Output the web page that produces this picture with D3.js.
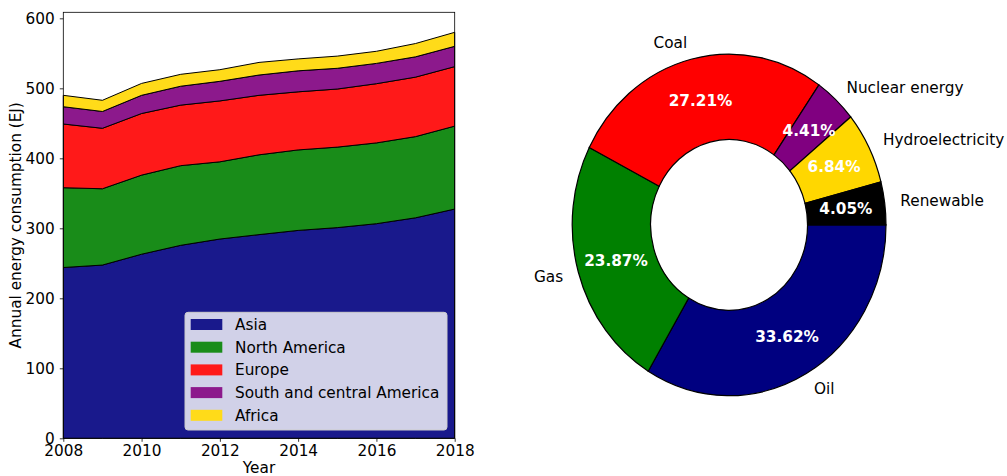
<!DOCTYPE html>
<html>
<head>
<meta charset="utf-8">
<script src="https://cdn.jsdelivr.net/npm/d3@7"></script>
<style>
  body { margin: 0; background: #fff; }
  svg { font-family: "DejaVu Sans", sans-serif; }
</style>
</head>
<body>
<div id="content"></div>
<script>
// stacked area data (EJ)
var years = [2008, 2009, 2010, 2011, 2012, 2013, 2014, 2015, 2016, 2017, 2018];
var asia = [244, 247.5, 263, 275.7, 284.7, 291, 297, 301, 306.6, 315, 327.5];
var northAmerica = [114, 109, 113, 113.8, 110.3, 114, 115, 115, 115.4, 116, 118.5];
var europe = [91, 86.4, 88, 86.5, 87, 85, 83, 83, 84.6, 85, 85];
var southCentral = [24.7, 24, 26, 27, 28, 29, 30, 29.6, 29, 29, 29];
var africa = [16.3, 16, 17, 17, 16.6, 18, 17, 17.4, 17.3, 19, 20];
var regions = ['Asia', 'North America', 'Europe', 'South and central America', 'Africa'];
var regionColors = ['#19198c', '#198c19', '#ff1919', '#8c198c', '#ffdb19'];
var yTicks = [0, 100, 200, 300, 400, 500, 600];
var xTicks = [2008, 2010, 2012, 2014, 2016, 2018];

// donut data (%)
var sources = ['Oil', 'Gas', 'Coal', 'Nuclear energy', 'Hydroelectricity', 'Renewable'];
var shares = [33.62, 23.87, 27.21, 4.41, 6.84, 4.05];
var sourceColors = ['#000080', '#008000', '#ff0000', '#800080', '#ffd700', '#000000'];

var width = 1007, height = 476;
var fontSize = '15.3px';
var svg = d3.select('#content').append('svg')
  .attr('width', width)
  .attr('height', height);

// ---- left: stacked area ----
var plotLeft = 63.3, plotRight = 454.7, plotTop = 12.3, plotBottom = 438.3;

var table = years.map(function(yr, i) {
  return {
    year: yr,
    'Asia': asia[i],
    'North America': northAmerica[i],
    'Europe': europe[i],
    'South and central America': southCentral[i],
    'Africa': africa[i]
  };
});

var x = d3.scaleLinear().domain([2008, 2018]).range([plotLeft, plotRight]);
var y = d3.scaleLinear().domain([0, 608.6]).range([plotBottom, plotTop]);

var series = d3.stack().keys(regions)(table);

var area = d3.area()
  .x(function(d) { return x(d.data.year); })
  .y0(function(d) { return y(d[0]); })
  .y1(function(d) { return y(d[1]); });

svg.append('g')
  .selectAll('path')
  .data(series)
  .enter().append('path')
  .attr('d', area)
  .attr('fill', function(d, i) { return regionColors[i]; })
  .attr('stroke', '#000')
  .attr('stroke-width', 1)
  .attr('stroke-linejoin', 'round');

// frame
svg.append('rect')
  .attr('x', plotLeft).attr('y', plotTop)
  .attr('width', plotRight - plotLeft).attr('height', plotBottom - plotTop)
  .attr('fill', 'none')
  .attr('stroke', '#000')
  .attr('stroke-width', 0.8);

var xAxis = svg.append('g')
  .attr('transform', 'translate(0,' + plotBottom + ')')
  .call(d3.axisBottom(x).tickValues(xTicks).tickFormat(d3.format('d'))
    .tickSize(3.5).tickPadding(3.5));
var yAxis = svg.append('g')
  .attr('transform', 'translate(' + plotLeft + ',0)')
  .call(d3.axisLeft(y).tickValues(yTicks).tickSize(3.5).tickPadding(5));

[xAxis, yAxis].forEach(function(ax) {
  ax.select('.domain').remove();
  ax.selectAll('line').attr('stroke', '#000').attr('stroke-width', 0.8);
  ax.selectAll('text')
    .attr('fill', '#000')
    .style('font-family', '"DejaVu Sans", sans-serif')
    .style('font-size', fontSize);
});

svg.append('text')
  .attr('x', (plotLeft + plotRight) / 2)
  .attr('y', 473)
  .attr('text-anchor', 'middle')
  .style('font-size', fontSize)
  .text('Year');

svg.append('text')
  .attr('transform', 'translate(21,' + ((plotTop + plotBottom) / 2) + ') rotate(-90)')
  .attr('text-anchor', 'middle')
  .style('font-size', fontSize)
  .text('Annual energy consumption (EJ)');

// legend
var legend = svg.append('g');
legend.append('rect')
  .attr('x', 185).attr('y', 312.3)
  .attr('width', 262).attr('height', 117.7)
  .attr('rx', 3)
  .attr('fill', '#fff').attr('fill-opacity', 0.8)
  .attr('stroke', '#ccc').attr('stroke-width', 1);

var rows = legend.selectAll('g.row')
  .data(regions)
  .enter().append('g')
  .attr('class', 'row')
  .attr('transform', function(d, i) { return 'translate(0,' + (324.5 + i * 22.7) + ')'; });

rows.append('rect')
  .attr('x', 190.7).attr('y', -5.5)
  .attr('width', 31.6).attr('height', 11)
  .attr('fill', function(d, i) { return regionColors[i]; });

rows.append('text')
  .attr('x', 235).attr('y', 5.4)
  .style('font-size', fontSize)
  .text(function(d) { return d; });

// ---- right: donut ----
var cx = 729.1, cy = 224.9, rx = 156.9, ry = 170.8;

var pie = d3.pie().sort(null)
  .startAngle(Math.PI / 2)
  .endAngle(Math.PI / 2 + 2 * Math.PI);
var arcs = pie(shares);

var arc = d3.arc().innerRadius(rx * 0.5).outerRadius(rx);

svg.append('g')
  .attr('transform', 'translate(' + cx + ',' + cy + ') scale(1,' + (ry / rx) + ')')
  .selectAll('path')
  .data(arcs)
  .enter().append('path')
  .attr('d', arc)
  .attr('fill', function(d, i) { return sourceColors[i]; })
  .attr('stroke', '#000')
  .attr('stroke-width', 1.2)
  .attr('vector-effect', 'non-scaling-stroke');

function pos(d, r) {
  var a = (d.startAngle + d.endAngle) / 2;
  return [cx + r * rx * Math.sin(a), cy - r * ry * Math.cos(a)];
}

svg.append('g')
  .selectAll('text')
  .data(arcs)
  .enter().append('text')
  .attr('x', function(d) { return pos(d, 1.1)[0]; })
  .attr('y', function(d) { return pos(d, 1.1)[1]; })
  .attr('dy', '0.35em')
  .attr('text-anchor', function(d) { return pos(d, 1.1)[0] > cx ? 'start' : 'end'; })
  .style('font-size', fontSize)
  .text(function(d, i) { return sources[i]; });

svg.append('g')
  .selectAll('text')
  .data(arcs)
  .enter().append('text')
  .attr('x', function(d) { return pos(d, 0.75)[0]; })
  .attr('y', function(d) { return pos(d, 0.75)[1]; })
  .attr('dy', '0.35em')
  .attr('text-anchor', 'middle')
  .attr('fill', '#fff')
  .style('font-size', fontSize)
  .style('font-weight', 'bold')
  .text(function(d) { return d.data.toFixed(2) + '%'; });
</script>
</body>
</html>
